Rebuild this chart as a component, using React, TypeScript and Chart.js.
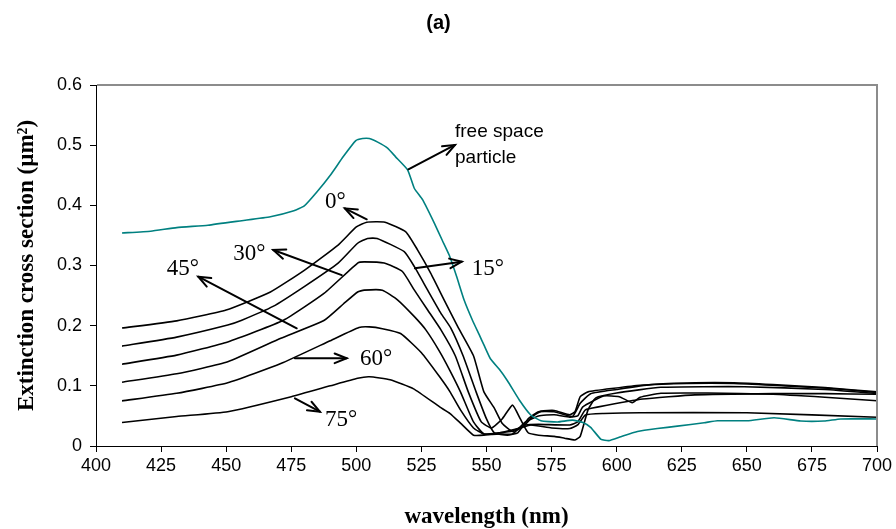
import React, { useEffect, useRef } from "react";
import { Chart, registerables } from "chart.js";

Chart.register(...registerables);

// ---------- data (wavelength in nm, extinction cross section in µm²) ----------
const freeSpaceWl = [410, 421, 431, 443, 456, 467, 476, 480, 485, 490, 495, 499.8, 502.4, 505, 508.2, 512, 515, 519.7, 522.3, 525.5, 530, 533, 535.7, 538.5, 541.4, 544.6, 547.2, 549, 551.5, 555, 558.1, 562.6, 567, 570.9, 577.3, 583, 587, 590, 594, 597, 601.6, 608, 615.6, 623.3, 633.6, 638.7, 650.2, 660.5, 670.7, 679.7, 686, 700];
const freeSpaceVal = [0.354, 0.357, 0.363, 0.367, 0.3745, 0.381, 0.391, 0.399, 0.423, 0.45, 0.481, 0.5075, 0.511, 0.511, 0.505, 0.495, 0.481, 0.459, 0.428, 0.409, 0.37, 0.342, 0.317, 0.282, 0.2426, 0.209, 0.185, 0.168, 0.145, 0.127, 0.108, 0.0765, 0.0515, 0.042, 0.04, 0.043, 0.039, 0.031, 0.011, 0.009, 0.0155, 0.024, 0.029, 0.033, 0.0387, 0.042, 0.042, 0.047, 0.0415, 0.0415, 0.045, 0.045];

const wl0 = [410, 431, 450, 467, 480, 493, 500, 504, 511, 519, 523.5, 528.6, 533.7, 539, 545, 549, 553, 556, 560, 564, 568, 571, 576, 582, 584, 586, 589, 599, 609, 627, 645, 660, 681, 700];
const val0 = [0.196, 0.208, 0.226, 0.256, 0.292, 0.334, 0.364, 0.372, 0.372, 0.356, 0.326, 0.287, 0.243, 0.198, 0.15, 0.09, 0.063, 0.038, 0.024, 0.032, 0.05, 0.058, 0.059, 0.052, 0.057, 0.082, 0.09, 0.096, 0.101, 0.104, 0.104, 0.101, 0.096, 0.089];

const wl15 = [410, 431, 450.6, 456, 468, 480, 493, 500.5, 504.3, 508, 518.4, 522.3, 527.4, 532.5, 536.3, 541, 546, 550, 553, 558, 562, 566, 570, 576, 583, 586, 590, 600, 613, 630, 645, 660, 680, 700];
const val15 = [0.166, 0.181, 0.201, 0.209, 0.232, 0.265, 0.304, 0.337, 0.345, 0.345, 0.323, 0.298, 0.259, 0.2205, 0.196, 0.15, 0.09, 0.045, 0.022, 0.018, 0.022, 0.045, 0.057, 0.057, 0.049, 0.071, 0.087, 0.094, 0.102, 0.105, 0.105, 0.102, 0.097, 0.09];

const wl30 = [410, 431, 450.6, 472, 487.7, 500.5, 503, 510.7, 517.7, 522.3, 527.4, 532.5, 538, 543, 548, 552, 556, 560, 563, 566, 570, 576, 580, 584, 586, 589, 592, 600, 617, 649, 680, 700];
const val30 = [0.136, 0.151, 0.173, 0.209, 0.254, 0.304, 0.306, 0.304, 0.29, 0.259, 0.226, 0.193, 0.15, 0.09, 0.04, 0.03, 0.045, 0.068, 0.045, 0.022, 0.018, 0.016, 0.013, 0.01, 0.016, 0.06, 0.08, 0.088, 0.0976, 0.0986, 0.094, 0.087];

const wl45 = [410, 431, 450.6, 471, 487.7, 495, 500.5, 503, 510, 515.8, 522.3, 526.7, 532, 536, 540, 545, 549, 555, 560, 565, 570, 576, 582, 585, 587, 595, 601, 606, 609, 617, 635, 660, 680, 700];
const val45 = [0.106, 0.12, 0.14, 0.179, 0.209, 0.236, 0.256, 0.259, 0.259, 0.243, 0.215, 0.193, 0.157, 0.125, 0.09, 0.04, 0.02, 0.02, 0.02, 0.04, 0.05, 0.052, 0.048, 0.05, 0.065, 0.083, 0.082, 0.072, 0.081, 0.0876, 0.088, 0.086, 0.081, 0.0753];

const wl60 = [410, 431, 450.6, 471, 490, 501, 505, 510, 517, 525, 532, 536, 540, 545, 549, 555, 560, 565, 570, 582, 585, 588, 593, 610, 630, 660, 680, 700];
const val60 = [0.075, 0.0876, 0.105, 0.137, 0.175, 0.197, 0.198, 0.195, 0.187, 0.155, 0.115, 0.09, 0.06, 0.03, 0.02, 0.022, 0.025, 0.035, 0.036, 0.035, 0.04, 0.06, 0.065, 0.078, 0.085, 0.087, 0.087, 0.086];

const wl75 = [410, 431, 450.6, 475, 490, 500.5, 505, 513, 522, 532, 536, 540, 545, 549, 555, 563, 567, 575, 582, 585, 588, 595, 609, 650, 700];
const val75 = [0.039, 0.049, 0.057, 0.082, 0.1, 0.1125, 0.115, 0.11, 0.095, 0.065, 0.054, 0.038, 0.018, 0.018, 0.022, 0.03, 0.035, 0.03, 0.029, 0.035, 0.0515, 0.054, 0.0553, 0.0553, 0.0477];

const seriesNames = ["free space particle", "0°", "15°", "30°", "45°", "60°", "75°"];

// ---------- annotations (in data units: [wavelength, value]) ----------
const noteTexts = [["free space", "particle"], ["0°"], ["15°"], ["30°"], ["45°"], ["60°"], ["75°"]];
const noteTextAt = [[537.9, 0.513], [488.0, 0.3956], [544.3, 0.284], [452.7, 0.309], [427.2, 0.284], [501.4, 0.1346], [488.0, 0.0332]];
const noteArrowFrom = [[520.0, 0.4599], [504.0, 0.3768], [522.5, 0.2953], [494.4, 0.284], [477.1, 0.1956], [476.4, 0.1458], [476.4, 0.0793]];
const noteArrowTo = [[537.9, 0.5003], [495.6, 0.395], [540.5, 0.3063], [468.1, 0.3258], [439.3, 0.2814], [496.3, 0.1458], [486.0, 0.057]];

const SANS = "'Liberation Sans', Arial, sans-serif";
const SERIF = "'Liberation Serif', 'Times New Roman', serif";

function pts(xs: number[], ys: number[]) {
  return xs.map((x, i) => ({ x, y: ys[i] }));
}

const frame = {
  id: "frame",
  afterDraw(chart: any) {
    const { ctx, chartArea: a } = chart;
    ctx.save();
    ctx.strokeStyle = "#8c8c8c";
    ctx.lineWidth = 2;
    ctx.beginPath();
    ctx.moveTo(a.left + 1, a.top);
    ctx.lineTo(a.right, a.top);
    ctx.lineTo(a.right, a.bottom);
    ctx.stroke();
    ctx.restore();
  },
};

const notes = {
  id: "notes",
  afterDatasetsDraw(chart: any) {
    const { ctx } = chart;
    const xs = chart.scales.x;
    const ys = chart.scales.y;
    ctx.save();
    ctx.strokeStyle = "#000";
    ctx.fillStyle = "#000";
    ctx.lineWidth = 2;
    ctx.lineCap = "round";
    ctx.lineJoin = "miter";
    noteTexts.forEach((lines, i) => {
      const x1 = xs.getPixelForValue(noteArrowFrom[i][0]);
      const y1 = ys.getPixelForValue(noteArrowFrom[i][1]);
      const x2 = xs.getPixelForValue(noteArrowTo[i][0]);
      const y2 = ys.getPixelForValue(noteArrowTo[i][1]);
      const ang = Math.atan2(y2 - y1, x2 - x1);
      ctx.beginPath();
      ctx.moveTo(x1, y1);
      ctx.lineTo(x2, y2);
      ctx.stroke();
      const L = 13;
      const h = 0.38;
      ctx.beginPath();
      ctx.moveTo(x2 - L * Math.cos(ang - h), y2 - L * Math.sin(ang - h));
      ctx.lineTo(x2, y2);
      ctx.lineTo(x2 - L * Math.cos(ang + h), y2 - L * Math.sin(ang + h));
      ctx.stroke();

      const tx = xs.getPixelForValue(noteTextAt[i][0]);
      const ty = ys.getPixelForValue(noteTextAt[i][1]);
      ctx.textAlign = "left";
      ctx.textBaseline = "alphabetic";
      if (i === 0) {
        ctx.font = `19px ${SANS}`;
        lines.forEach((t, k) => ctx.fillText(t, tx, ty + k * 25.4));
      } else {
        ctx.font = `23px ${SERIF}`;
        ctx.fillText(lines[0], tx, ty);
      }
    });
    ctx.restore();
  },
};

export default function App() {
  const ref = useRef<HTMLCanvasElement | null>(null);

  useEffect(() => {
    document.body.style.margin = "0";
    const canvas = ref.current;
    if (!canvas) return;
    const lineStyle = (color: string) => ({
      borderColor: color,
      backgroundColor: color,
      borderWidth: 1.6,
      pointRadius: 0,
      fill: false,
      tension: 0.15,
    });
    const chart = new Chart(canvas, {
      type: "line",
      data: {
        datasets: [
          { label: seriesNames[0], data: pts(freeSpaceWl, freeSpaceVal), ...lineStyle("#008080") },
          { label: seriesNames[1], data: pts(wl0, val0), ...lineStyle("#000000") },
          { label: seriesNames[2], data: pts(wl15, val15), ...lineStyle("#000000") },
          { label: seriesNames[3], data: pts(wl30, val30), ...lineStyle("#000000") },
          { label: seriesNames[4], data: pts(wl45, val45), ...lineStyle("#000000") },
          { label: seriesNames[5], data: pts(wl60, val60), ...lineStyle("#000000") },
          { label: seriesNames[6], data: pts(wl75, val75), ...lineStyle("#000000") },
        ],
      },
      options: {
        responsive: false,
        animation: false,
        layout: { padding: { left: 0, right: 19, top: 0, bottom: 0 } },
        plugins: {
          legend: { display: false },
          tooltip: { enabled: false },
          title: {
            display: true,
            text: "(a)",
            color: "#000",
            font: { family: SANS, size: 20, weight: "bold" },
            padding: { top: 11, bottom: 50 },
          },
        },
        scales: {
          x: {
            type: "linear",
            min: 400,
            max: 700,
            ticks: {
              stepSize: 25,
              color: "#000",
              font: { family: SANS, size: 18 },
              padding: 3,
              maxRotation: 0,
              autoSkip: false,
            },
            grid: { drawOnChartArea: false, drawTicks: true, tickLength: 6, color: "#000" },
            border: { display: true, color: "#000", width: 1 },
            title: {
              display: true,
              text: "wavelength (nm)",
              color: "#000",
              font: { family: SERIF, size: 23, weight: "bold", lineHeight: 1.0 },
              padding: { top: 0, bottom: 0 },
            },
            afterFit: (s: any) => {
              s.height = 83;
            },
          },
          y: {
            type: "linear",
            min: 0,
            max: 0.6,
            ticks: {
              stepSize: 0.1,
              color: "#000",
              font: { family: SANS, size: 18 },
              padding: 8,
              callback: (v: any) => (Number(v) === 0 ? "0" : Number(v).toFixed(1)),
            },
            grid: { drawOnChartArea: false, drawTicks: true, tickLength: 6, color: "#000" },
            border: { display: true, color: "#000", width: 1 },
            title: {
              display: true,
              text: "Extinction cross section (µm²)",
              color: "#000",
              font: { family: SERIF, size: 23, weight: "bold" },
              padding: { top: 13.2, bottom: 0 },
            },
            afterFit: (s: any) => {
              s.width = 96;
            },
          },
        },
      },
      plugins: [frame, notes],
    } as any);
    return () => chart.destroy();
  }, []);

  return <canvas ref={ref} width={896} height={529} style={{ display: "block" }} />;
}
